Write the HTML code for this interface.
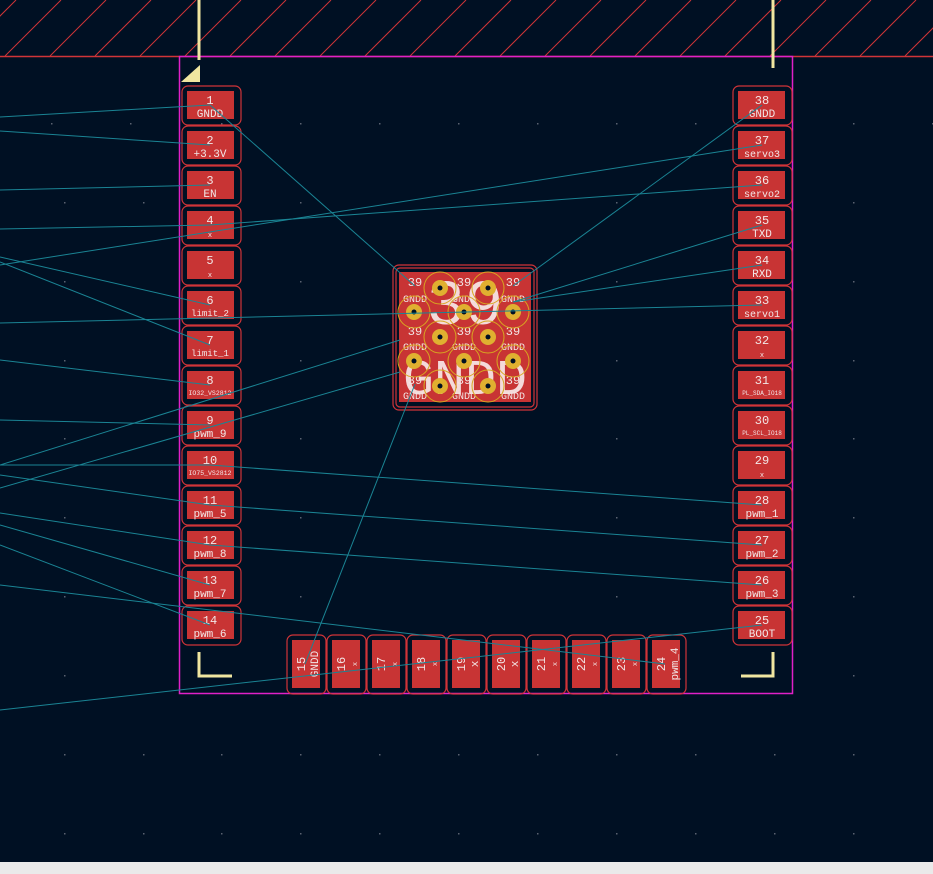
<!DOCTYPE html>
<html><head><meta charset="utf-8"><style>
html,body{margin:0;padding:0;background:#001023;}
svg{display:block;}
text{font-family:"Liberation Mono","DejaVu Sans Mono",monospace;fill:#f2e6e6;text-anchor:middle;}
.n{font-size:12px;}.l{font-size:11px;}.s{font-size:7px;}
.o{fill:none;stroke:#d03438;stroke-width:1.2;}
.p{fill:#c83434;}
.r{stroke:#1a8494;stroke-width:1;fill:none;}
</style></head><body>
<svg width="933" height="874" viewBox="0 0 933 874" xmlns="http://www.w3.org/2000/svg">
<rect width="933" height="874" fill="#001023"/>
<g stroke="#d03438" stroke-width="1">
<line x1="-40" y1="56" x2="16" y2="0"/><line x1="5" y1="56" x2="61" y2="0"/><line x1="50" y1="56" x2="106" y2="0"/><line x1="95" y1="56" x2="151" y2="0"/><line x1="140" y1="56" x2="196" y2="0"/><line x1="185" y1="56" x2="241" y2="0"/><line x1="230" y1="56" x2="286" y2="0"/><line x1="275" y1="56" x2="331" y2="0"/><line x1="320" y1="56" x2="376" y2="0"/><line x1="365" y1="56" x2="421" y2="0"/><line x1="410" y1="56" x2="466" y2="0"/><line x1="455" y1="56" x2="511" y2="0"/><line x1="500" y1="56" x2="556" y2="0"/><line x1="545" y1="56" x2="601" y2="0"/><line x1="590" y1="56" x2="646" y2="0"/><line x1="635" y1="56" x2="691" y2="0"/><line x1="680" y1="56" x2="736" y2="0"/><line x1="725" y1="56" x2="781" y2="0"/><line x1="770" y1="56" x2="826" y2="0"/><line x1="815" y1="56" x2="871" y2="0"/><line x1="860" y1="56" x2="916" y2="0"/><line x1="905" y1="56" x2="961" y2="0"/>
</g>
<line x1="0" y1="56.5" x2="933" y2="56.5" stroke="#d03438" stroke-width="1.5"/>
<g fill="#5a6270">
<rect x="51" y="123" width="1.5" height="1.5"/><rect x="130" y="123" width="1.5" height="1.5"/><rect x="221" y="123" width="1.5" height="1.5"/><rect x="300" y="123" width="1.5" height="1.5"/><rect x="379" y="123" width="1.5" height="1.5"/><rect x="458" y="123" width="1.5" height="1.5"/><rect x="537" y="123" width="1.5" height="1.5"/><rect x="616" y="123" width="1.5" height="1.5"/><rect x="695" y="123" width="1.5" height="1.5"/><rect x="853" y="123" width="1.5" height="1.5"/><rect x="932" y="123" width="1.5" height="1.5"/>
<rect x="64" y="202" width="1.5" height="1.5"/><rect x="143" y="202" width="1.5" height="1.5"/><rect x="300" y="202" width="1.5" height="1.5"/><rect x="616" y="202" width="1.5" height="1.5"/><rect x="853" y="202" width="1.5" height="1.5"/>
<rect x="64" y="281" width="1.5" height="1.5"/><rect x="300" y="281" width="1.5" height="1.5"/><rect x="616" y="281" width="1.5" height="1.5"/><rect x="853" y="281" width="1.5" height="1.5"/>
<rect x="64" y="360" width="1.5" height="1.5"/><rect x="300" y="360" width="1.5" height="1.5"/><rect x="616" y="360" width="1.5" height="1.5"/><rect x="853" y="360" width="1.5" height="1.5"/>
<rect x="64" y="438" width="1.5" height="1.5"/><rect x="300" y="438" width="1.5" height="1.5"/><rect x="616" y="438" width="1.5" height="1.5"/><rect x="853" y="438" width="1.5" height="1.5"/>
<rect x="64" y="517" width="1.5" height="1.5"/><rect x="300" y="517" width="1.5" height="1.5"/><rect x="616" y="517" width="1.5" height="1.5"/><rect x="853" y="517" width="1.5" height="1.5"/>
<rect x="64" y="596" width="1.5" height="1.5"/><rect x="300" y="596" width="1.5" height="1.5"/><rect x="616" y="596" width="1.5" height="1.5"/><rect x="853" y="596" width="1.5" height="1.5"/>
<rect x="64" y="675" width="1.5" height="1.5"/><rect x="853" y="675" width="1.5" height="1.5"/>
<rect x="64" y="754" width="1.5" height="1.5"/><rect x="143" y="754" width="1.5" height="1.5"/><rect x="221" y="754" width="1.5" height="1.5"/><rect x="300" y="754" width="1.5" height="1.5"/><rect x="379" y="754" width="1.5" height="1.5"/><rect x="458" y="754" width="1.5" height="1.5"/><rect x="537" y="754" width="1.5" height="1.5"/><rect x="616" y="754" width="1.5" height="1.5"/><rect x="695" y="754" width="1.5" height="1.5"/><rect x="774" y="754" width="1.5" height="1.5"/><rect x="853" y="754" width="1.5" height="1.5"/>
<rect x="64" y="833" width="1.5" height="1.5"/><rect x="143" y="833" width="1.5" height="1.5"/><rect x="221" y="833" width="1.5" height="1.5"/><rect x="300" y="833" width="1.5" height="1.5"/><rect x="379" y="833" width="1.5" height="1.5"/><rect x="458" y="833" width="1.5" height="1.5"/><rect x="537" y="833" width="1.5" height="1.5"/><rect x="616" y="833" width="1.5" height="1.5"/><rect x="695" y="833" width="1.5" height="1.5"/><rect x="774" y="833" width="1.5" height="1.5"/><rect x="853" y="833" width="1.5" height="1.5"/>
</g>
<rect x="179.5" y="56.5" width="613" height="637" fill="none" stroke="#e020c8" stroke-width="1.5"/>
<g stroke="#f0e6a0" stroke-width="3" fill="none">
<line x1="199" y1="0" x2="199" y2="60"/>
<line x1="773" y1="0" x2="773" y2="68"/>
<polyline points="199,652 199,676 232,676"/>
<polyline points="773,652 773,676 741,676"/>
</g>
<polygon points="181,82 200,65 200,82" fill="#f0e6a0"/>

<g>
<rect class="o" x="182" y="86" width="59" height="39" rx="6"/><rect class="p" x="187" y="91" width="47" height="28"/><text class="n" x="210" y="104">1</text><text class="l" x="210" y="117">GNDD</text>
<rect class="o" x="182" y="126" width="59" height="39" rx="6"/><rect class="p" x="187" y="131" width="47" height="28"/><text class="n" x="210" y="144">2</text><text class="l" x="210" y="157">+3.3V</text>
<rect class="o" x="182" y="166" width="59" height="39" rx="6"/><rect class="p" x="187" y="171" width="47" height="28"/><text class="n" x="210" y="184">3</text><text class="l" x="210" y="197">EN</text>
<rect class="o" x="182" y="206" width="59" height="39" rx="6"/><rect class="p" x="187" y="211" width="47" height="28"/><text class="n" x="210" y="224">4</text><text class="s" x="210" y="237">x</text>
<rect class="o" x="182" y="246" width="59" height="39" rx="6"/><rect class="p" x="187" y="251" width="47" height="28"/><text class="n" x="210" y="264">5</text><text class="s" x="210" y="277">x</text>
<rect class="o" x="182" y="286" width="59" height="39" rx="6"/><rect class="p" x="187" y="291" width="47" height="28"/><text class="n" x="210" y="304">6</text><text class="s" x="210" y="316" style="font-size:9px">limit_2</text>
<rect class="o" x="182" y="326" width="59" height="39" rx="6"/><rect class="p" x="187" y="331" width="47" height="28"/><text class="n" x="210" y="344">7</text><text class="s" x="210" y="356" style="font-size:9px">limit_1</text>
<rect class="o" x="182" y="366" width="59" height="39" rx="6"/><rect class="p" x="187" y="371" width="47" height="28"/><text class="n" x="210" y="384">8</text><text class="s" x="210" y="395" style="font-size:6.5px">IO32_VS2812</text>
<rect class="o" x="182" y="406" width="59" height="39" rx="6"/><rect class="p" x="187" y="411" width="47" height="28"/><text class="n" x="210" y="424">9</text><text class="l" x="210" y="437">pwm_9</text>
<rect class="o" x="182" y="446" width="59" height="39" rx="6"/><rect class="p" x="187" y="451" width="47" height="28"/><text class="n" x="210" y="464">10</text><text class="s" x="210" y="475" style="font-size:6.5px">IO75_VS2812</text>
<rect class="o" x="182" y="486" width="59" height="39" rx="6"/><rect class="p" x="187" y="491" width="47" height="28"/><text class="n" x="210" y="504">11</text><text class="l" x="210" y="517">pwm_5</text>
<rect class="o" x="182" y="526" width="59" height="39" rx="6"/><rect class="p" x="187" y="531" width="47" height="28"/><text class="n" x="210" y="544">12</text><text class="l" x="210" y="557">pwm_8</text>
<rect class="o" x="182" y="566" width="59" height="39" rx="6"/><rect class="p" x="187" y="571" width="47" height="28"/><text class="n" x="210" y="584">13</text><text class="l" x="210" y="597">pwm_7</text>
<rect class="o" x="182" y="606" width="59" height="39" rx="6"/><rect class="p" x="187" y="611" width="47" height="28"/><text class="n" x="210" y="624">14</text><text class="l" x="210" y="637">pwm_6</text>
</g>
<g>
<rect class="o" x="733" y="86" width="59" height="39" rx="6"/><rect class="p" x="738" y="91" width="47" height="28"/><text class="n" x="762" y="104">38</text><text class="l" x="762" y="117">GNDD</text>
<rect class="o" x="733" y="126" width="59" height="39" rx="6"/><rect class="p" x="738" y="131" width="47" height="28"/><text class="n" x="762" y="144">37</text><text class="l" x="762" y="157" style="font-size:10px">servo3</text>
<rect class="o" x="733" y="166" width="59" height="39" rx="6"/><rect class="p" x="738" y="171" width="47" height="28"/><text class="n" x="762" y="184">36</text><text class="l" x="762" y="197" style="font-size:10px">servo2</text>
<rect class="o" x="733" y="206" width="59" height="39" rx="6"/><rect class="p" x="738" y="211" width="47" height="28"/><text class="n" x="762" y="224">35</text><text class="l" x="762" y="237">TXD</text>
<rect class="o" x="733" y="246" width="59" height="39" rx="6"/><rect class="p" x="738" y="251" width="47" height="28"/><text class="n" x="762" y="264">34</text><text class="l" x="762" y="277">RXD</text>
<rect class="o" x="733" y="286" width="59" height="39" rx="6"/><rect class="p" x="738" y="291" width="47" height="28"/><text class="n" x="762" y="304">33</text><text class="l" x="762" y="317" style="font-size:10px">servo1</text>
<rect class="o" x="733" y="326" width="59" height="39" rx="6"/><rect class="p" x="738" y="331" width="47" height="28"/><text class="n" x="762" y="344">32</text><text class="s" x="762" y="357">x</text>
<rect class="o" x="733" y="366" width="59" height="39" rx="6"/><rect class="p" x="738" y="371" width="47" height="28"/><text class="n" x="762" y="384">31</text><text class="s" x="762" y="395" style="font-size:6px">PL_SDA_IO18</text>
<rect class="o" x="733" y="406" width="59" height="39" rx="6"/><rect class="p" x="738" y="411" width="47" height="28"/><text class="n" x="762" y="424">30</text><text class="s" x="762" y="435" style="font-size:6px">PL_SCL_IO18</text>
<rect class="o" x="733" y="446" width="59" height="39" rx="6"/><rect class="p" x="738" y="451" width="47" height="28"/><text class="n" x="762" y="464">29</text><text class="s" x="762" y="477">x</text>
<rect class="o" x="733" y="486" width="59" height="39" rx="6"/><rect class="p" x="738" y="491" width="47" height="28"/><text class="n" x="762" y="504">28</text><text class="l" x="762" y="517">pwm_1</text>
<rect class="o" x="733" y="526" width="59" height="39" rx="6"/><rect class="p" x="738" y="531" width="47" height="28"/><text class="n" x="762" y="544">27</text><text class="l" x="762" y="557">pwm_2</text>
<rect class="o" x="733" y="566" width="59" height="39" rx="6"/><rect class="p" x="738" y="571" width="47" height="28"/><text class="n" x="762" y="584">26</text><text class="l" x="762" y="597">pwm_3</text>
<rect class="o" x="733" y="606" width="59" height="39" rx="6"/><rect class="p" x="738" y="611" width="47" height="28"/><text class="n" x="762" y="624">25</text><text class="l" x="762" y="637">BOOT</text>
</g>
<g>
<rect class="o" x="287" y="635" width="39" height="59" rx="6"/><rect class="p" x="292" y="640" width="28" height="48"/><text class="n" transform="translate(305,664) rotate(-90)">15</text><text class="l" transform="translate(318,664) rotate(-90)">GNDD</text>
<rect class="o" x="327" y="635" width="39" height="59" rx="6"/><rect class="p" x="332" y="640" width="28" height="48"/><text class="n" transform="translate(345,664) rotate(-90)">16</text><text class="s" transform="translate(357,664) rotate(-90)">x</text>
<rect class="o" x="367" y="635" width="39" height="59" rx="6"/><rect class="p" x="372" y="640" width="28" height="48"/><text class="n" transform="translate(385,664) rotate(-90)">17</text><text class="s" transform="translate(397,664) rotate(-90)">x</text>
<rect class="o" x="407" y="635" width="39" height="59" rx="6"/><rect class="p" x="412" y="640" width="28" height="48"/><text class="n" transform="translate(425,664) rotate(-90)">18</text><text class="s" transform="translate(437,664) rotate(-90)">x</text>
<rect class="o" x="447" y="635" width="39" height="59" rx="6"/><rect class="p" x="452" y="640" width="28" height="48"/><text class="n" transform="translate(465,664) rotate(-90)">19</text><text class="l" transform="translate(478,664) rotate(-90)">x</text>
<rect class="o" x="487" y="635" width="39" height="59" rx="6"/><rect class="p" x="492" y="640" width="28" height="48"/><text class="n" transform="translate(505,664) rotate(-90)">20</text><text class="l" transform="translate(518,664) rotate(-90)">x</text>
<rect class="o" x="527" y="635" width="39" height="59" rx="6"/><rect class="p" x="532" y="640" width="28" height="48"/><text class="n" transform="translate(545,664) rotate(-90)">21</text><text class="s" transform="translate(557,664) rotate(-90)">x</text>
<rect class="o" x="567" y="635" width="39" height="59" rx="6"/><rect class="p" x="572" y="640" width="28" height="48"/><text class="n" transform="translate(585,664) rotate(-90)">22</text><text class="s" transform="translate(597,664) rotate(-90)">x</text>
<rect class="o" x="607" y="635" width="39" height="59" rx="6"/><rect class="p" x="612" y="640" width="28" height="48"/><text class="n" transform="translate(625,664) rotate(-90)">23</text><text class="s" transform="translate(637,664) rotate(-90)">x</text>
<rect class="o" x="647" y="635" width="39" height="59" rx="6"/><rect class="p" x="652" y="640" width="28" height="48"/><text class="n" transform="translate(665,664) rotate(-90)">24</text><text class="l" transform="translate(678,664) rotate(-90)">pwm_4</text>
</g>
<rect class="o" x="393" y="265" width="144" height="145" rx="6"/>
<rect class="o" x="396" y="268" width="138" height="139" rx="4"/>
<rect class="p" x="399" y="272" width="132" height="130"/>
<text x="465" y="324" style="font-size:64px;fill:#f4dada">39</text>
<text x="465" y="394" textLength="124" lengthAdjust="spacingAndGlyphs" style="font-size:50px;fill:#f4dada">GNDD</text>
<g style="font-size:12px">
<text x="415" y="286">39</text><text x="464" y="286">39</text><text x="513" y="286">39</text>
<text x="415" y="302" style="font-size:10px">GNDD</text><text x="464" y="302" style="font-size:10px">GNDD</text><text x="513" y="302" style="font-size:10px">GNDD</text>
<text x="415" y="335">39</text><text x="464" y="335">39</text><text x="513" y="335">39</text>
<text x="415" y="350" style="font-size:10px">GNDD</text><text x="464" y="350" style="font-size:10px">GNDD</text><text x="513" y="350" style="font-size:10px">GNDD</text>
<text x="415" y="384">39</text><text x="464" y="384">39</text><text x="513" y="384">39</text>
<text x="415" y="399" style="font-size:10px">GNDD</text><text x="464" y="399" style="font-size:10px">GNDD</text><text x="513" y="399" style="font-size:10px">GNDD</text>
</g>
<g stroke="#d8a820" stroke-width="1" fill="none">
<circle cx="440" cy="288" r="16"/><circle cx="488" cy="288" r="16"/>
<circle cx="414" cy="312" r="16"/><circle cx="464" cy="312" r="16"/><circle cx="513" cy="312" r="16"/>
<circle cx="440" cy="337" r="16"/><circle cx="488" cy="337" r="16"/>
<circle cx="414" cy="361" r="16"/><circle cx="464" cy="361" r="16"/><circle cx="513" cy="361" r="16"/>
<circle cx="440" cy="386" r="16"/><circle cx="488" cy="386" r="16"/>
</g>
<g fill="#e0b030">
<circle cx="440" cy="288" r="8"/><circle cx="488" cy="288" r="8"/>
<circle cx="414" cy="312" r="8"/><circle cx="464" cy="312" r="8"/><circle cx="513" cy="312" r="8"/>
<circle cx="440" cy="337" r="8"/><circle cx="488" cy="337" r="8"/>
<circle cx="414" cy="361" r="8"/><circle cx="464" cy="361" r="8"/><circle cx="513" cy="361" r="8"/>
<circle cx="440" cy="386" r="8"/><circle cx="488" cy="386" r="8"/>
</g>
<g fill="#001023">
<circle cx="440" cy="288" r="2.5"/><circle cx="488" cy="288" r="2.5"/>
<circle cx="414" cy="312" r="2.5"/><circle cx="464" cy="312" r="2.5"/><circle cx="513" cy="312" r="2.5"/>
<circle cx="440" cy="337" r="2.5"/><circle cx="488" cy="337" r="2.5"/>
<circle cx="414" cy="361" r="2.5"/><circle cx="464" cy="361" r="2.5"/><circle cx="513" cy="361" r="2.5"/>
<circle cx="440" cy="386" r="2.5"/><circle cx="488" cy="386" r="2.5"/>
</g>
<g class="r">
<line x1="0" y1="117" x2="210" y2="105"/>
<line x1="0" y1="131" x2="210" y2="145"/>
<line x1="0" y1="190" x2="210" y2="185"/>
<line x1="210" y1="105" x2="415" y2="286"/>
<line x1="762" y1="105" x2="513" y2="286"/>
<line x1="415" y1="384" x2="305" y2="664"/>
<line x1="0" y1="229" x2="210" y2="225"/>
<line x1="0" y1="265" x2="762" y2="145"/>
<line x1="210" y1="225" x2="762" y2="185"/>
<line x1="0" y1="257" x2="210" y2="305"/>
<line x1="0" y1="262" x2="210" y2="345"/>
<line x1="0" y1="323" x2="762" y2="305"/>
<line x1="0" y1="360" x2="210" y2="385"/>
<line x1="0" y1="420" x2="210" y2="425"/>
<line x1="0" y1="465" x2="400" y2="340"/>
<line x1="0" y1="488" x2="400" y2="372"/>
<line x1="0" y1="465" x2="210" y2="465"/>
<line x1="0" y1="475" x2="210" y2="505"/>
<line x1="210" y1="465" x2="762" y2="505"/>
<line x1="0" y1="513" x2="210" y2="545"/>
<line x1="210" y1="505" x2="762" y2="545"/>
<line x1="0" y1="525" x2="210" y2="585"/>
<line x1="210" y1="545" x2="762" y2="585"/>
<line x1="0" y1="545" x2="210" y2="625"/>
<line x1="0" y1="585" x2="665" y2="664"/>
<line x1="0" y1="710" x2="762" y2="625"/>
<line x1="513" y1="302" x2="762" y2="225"/>
<line x1="513" y1="302" x2="762" y2="265"/>
</g>
<rect x="0" y="862" width="933" height="12" fill="#eaeaea"/>
</svg>
</body></html>
